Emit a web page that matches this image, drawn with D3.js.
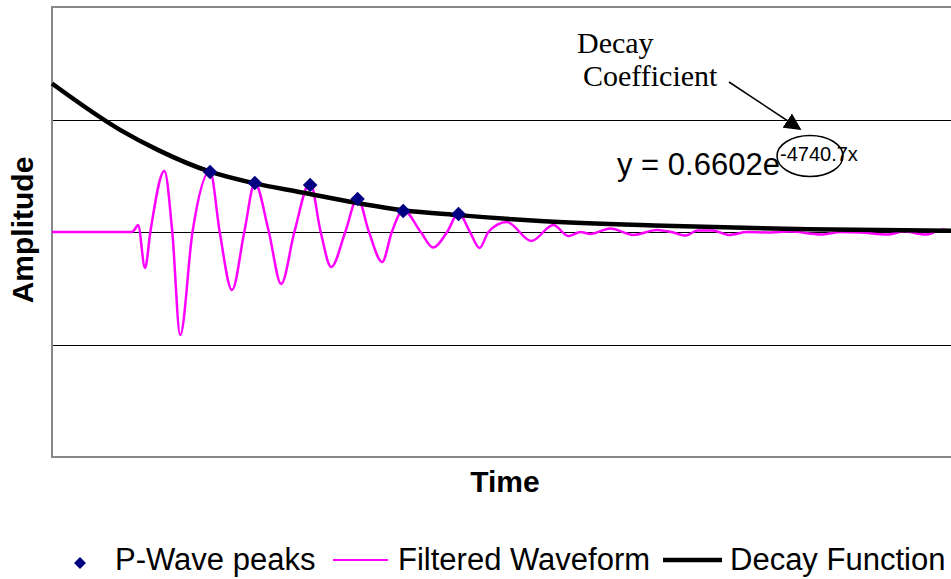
<!DOCTYPE html>
<html>
<head>
<meta charset="utf-8">
<script src="https://cdn.jsdelivr.net/npm/d3@7"></script>
<style>
  html, body { margin: 0; padding: 0; background: #fff; }
  svg { display: block; }
</style>
</head>
<body>
<svg id="chart" width="951" height="579"></svg>
<script>
// ---- Data (time in microseconds, amplitude in arbitrary units) ----
const waveTime = [0, 91, 97, 98, 106, 112, 128, 137, 146, 160, 180, 191, 205, 219, 231, 247, 261, 276, 294, 306, 318, 334, 348, 361, 376, 387, 400, 420, 434, 450, 463, 476, 487, 497, 518, 546, 571, 588, 602, 613, 636, 662, 689, 705, 722, 735, 752, 771, 792, 815, 841, 876, 898, 921, 952, 970, 995, 1015, 1025];
const waveAmp  = [0, 0, 0.027, 0.031, -0.16, 0, 0.271, 0, -0.458, 0, 0.271, 0, -0.258, 0, 0.218, 0, -0.231, 0, 0.22, 0, -0.156, 0, 0.151, 0, -0.133, 0, 0.098, 0, -0.069, 0, 0.084, 0, -0.071, 0, 0.044, -0.04, 0.031, -0.018, 0, -0.009, 0.016, -0.013, 0.009, 0, -0.016, 0.007, 0.007, -0.013, 0, -0.002, 0.002, -0.011, 0, -0.002, -0.011, 0.002, -0.011, 0.011, 0];

const peakTime = [180, 231, 294, 348, 400, 463];
const peakAmp  = [0.267, 0.218, 0.209, 0.147, 0.093, 0.080];

const decayTime = [0, 78, 121, 180, 231, 283, 348, 400, 463, 556, 697, 861, 1025];
const decayAmp  = [0.660, 0.453, 0.364, 0.268, 0.216, 0.177, 0.129, 0.097, 0.075, 0.049, 0.028, 0.012, 0.006];

const gridTicks = [-0.5, 0, 0.5];
const xDomain = [0, 1025];
const yDomain = [-1, 1];

const seriesNames = ["P-Wave peaks", "Filtered Waveform", "Decay Function"];
const xTitle = "Time";
const yTitle = "Amplitude";
const annotationLines = ["Decay", "Coefficient"];
const equationBase = "y = 0.6602e";
const equationExp = "-4740.7x";

// ---- Layout ----
const svg = d3.select("#chart");
const plot = { left: 52, top: 7, right: 952, bottom: 457 };

const x = d3.scaleLinear().domain(xDomain).range([plot.left, plot.right]);
const y = d3.scaleLinear().domain(yDomain).range([plot.bottom, plot.top]);

// Gridlines
svg.append("g").selectAll("line")
  .data(gridTicks).join("line")
  .attr("x1", plot.left).attr("x2", plot.right)
  .attr("y1", d => Math.round(y(d)) + 0.5).attr("y2", d => Math.round(y(d)) + 0.5)
  .attr("stroke", "#000").attr("stroke-width", 1);

// Plot border (left, top, bottom)
svg.append("path")
  .attr("d", `M${plot.right},${plot.top} H${plot.left} V${plot.bottom} H${plot.right}`)
  .attr("fill", "none").attr("stroke", "#888").attr("stroke-width", 2);

// Waveform
const wave = waveTime.map((t, i) => [t, waveAmp[i]]);
svg.append("path")
  .datum(wave)
  .attr("fill", "none")
  .attr("stroke", "#FF00FF")
  .attr("stroke-width", 2.5)
  .attr("stroke-linejoin", "round")
  .attr("d", d3.line().x(d => x(d[0])).y(d => y(d[1])).curve(d3.curveMonotoneX));

// Decay curve
const decay = decayTime.map((t, i) => [t, decayAmp[i]]);
svg.append("path")
  .datum(decay)
  .attr("fill", "none")
  .attr("stroke", "#000")
  .attr("stroke-width", 4.5)
  .attr("d", d3.line().x(d => x(d[0])).y(d => y(d[1])).curve(d3.curveMonotoneX));

// Peaks (diamonds)
const diamond = d3.symbol().type(d3.symbolDiamond2).size(135);
svg.append("g").selectAll("path")
  .data(peakTime.map((t, i) => [t, peakAmp[i]]))
  .join("path")
  .attr("transform", d => `translate(${x(d[0])},${y(d[1])})`)
  .attr("d", diamond)
  .attr("fill", "#000080");

// Axis titles
svg.append("text")
  .attr("x", 505).attr("y", 492)
  .attr("text-anchor", "middle")
  .attr("font-family", "Liberation Sans, Arial, sans-serif")
  .attr("font-weight", "bold").attr("font-size", 30)
  .text(xTitle);

svg.append("text")
  .attr("transform", "translate(33,230) rotate(-90)")
  .attr("text-anchor", "middle")
  .attr("font-family", "Liberation Sans, Arial, sans-serif")
  .attr("font-weight", "bold").attr("font-size", 30)
  .text(yTitle);

// Annotation
svg.append("text")
  .attr("x", 577).attr("y", 53)
  .attr("font-family", "Liberation Serif, Times New Roman, serif")
  .attr("font-size", 30)
  .text(annotationLines[0]);
svg.append("text")
  .attr("x", 583).attr("y", 86)
  .attr("font-family", "Liberation Serif, Times New Roman, serif")
  .attr("font-size", 30)
  .text(annotationLines[1]);

// Arrow
const defs = svg.append("defs");
defs.append("marker")
  .attr("id", "arrowhead")
  .attr("viewBox", "0 0 10 10")
  .attr("refX", 9).attr("refY", 5)
  .attr("markerWidth", 17).attr("markerHeight", 17)
  .attr("markerUnits", "userSpaceOnUse")
  .attr("orient", "auto")
  .append("path").attr("d", "M0,0 L10,5 L0,10 Z").attr("fill", "#000");

svg.append("line")
  .attr("x1", 729).attr("y1", 82)
  .attr("x2", 800).attr("y2", 129)
  .attr("stroke", "#000").attr("stroke-width", 1.5)
  .attr("marker-end", "url(#arrowhead)");

// Equation
svg.append("text")
  .attr("x", 617).attr("y", 175)
  .attr("font-family", "Liberation Sans, Arial, sans-serif")
  .attr("font-size", 31)
  .text(equationBase);
svg.append("text")
  .attr("x", 780).attr("y", 161)
  .attr("font-family", "Liberation Sans, Arial, sans-serif")
  .attr("font-size", 20)
  .text(equationExp);

svg.append("ellipse")
  .attr("cx", 810).attr("cy", 156)
  .attr("rx", 33).attr("ry", 20.5)
  .attr("fill", "none")
  .attr("stroke", "#000").attr("stroke-width", 1.5);

// Legend
const legend = svg.append("g")
  .attr("font-family", "Liberation Sans, Arial, sans-serif")
  .attr("font-size", 31);

legend.append("path")
  .attr("transform", "translate(80,563)")
  .attr("d", d3.symbol().type(d3.symbolDiamond2).size(90))
  .attr("fill", "#000080");
legend.append("text").attr("x", 115).attr("y", 570).text(seriesNames[0]);

legend.append("line")
  .attr("x1", 333).attr("x2", 388).attr("y1", 560).attr("y2", 560)
  .attr("stroke", "#FF00FF").attr("stroke-width", 2);
legend.append("text").attr("x", 398).attr("y", 570).text(seriesNames[1]);

legend.append("line")
  .attr("x1", 663).attr("x2", 722).attr("y1", 560).attr("y2", 560)
  .attr("stroke", "#000").attr("stroke-width", 4.5);
legend.append("text").attr("x", 730).attr("y", 570).text(seriesNames[2]);
</script>
</body>
</html>
